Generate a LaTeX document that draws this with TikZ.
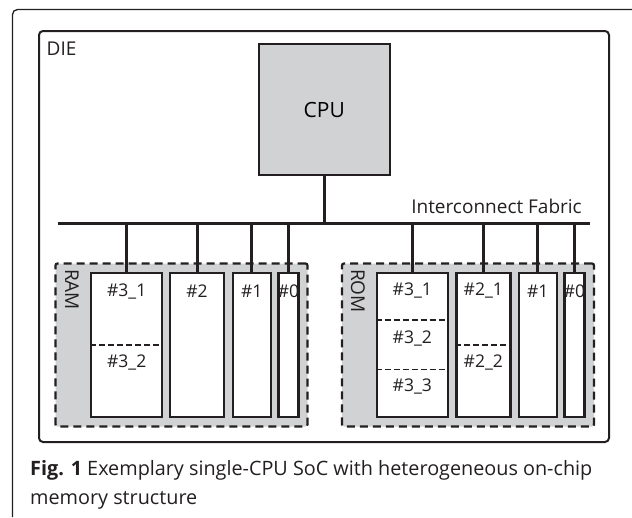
\documentclass[tikz,border=0pt]{standalone}
\usepackage{fontspec}
\setmainfont{Open Sans}
\definecolor{chipgray}{HTML}{D1D2D4}
\definecolor{ink}{HTML}{231F20}
\begin{document}
\begin{tikzpicture}[x=1pt,y=-1pt,
  frame/.style={draw=ink,line width=1.3pt},
  diebox/.style={draw=ink,line width=2pt,rounded corners=4pt,minimum width=570pt,minimum height=411pt,inner sep=0pt},
  cpubox/.style={draw=ink,fill=chipgray,line width=2pt,minimum width=131pt,minimum height=131pt,inner sep=0pt,font=\fontsize{21}{25}\selectfont},
  memregion/.style={draw=ink,fill=chipgray,line width=2.2pt,dash pattern=on 8pt off 5pt,rounded corners=2pt,minimum width=252pt,minimum height=163pt,inner sep=0pt},
  bank/.style={draw=ink,fill=white,line width=2.4pt,minimum height=144pt,inner sep=0pt},
  divider/.style={draw=ink,line width=1.1pt,dash pattern=on 6pt off 3pt},
  wire/.style={draw=ink,line width=3pt},
  lbl/.style={font=\fontsize{17.5}{21}\selectfont,text=ink,inner sep=0pt},
  biglbl/.style={font=\fontsize{19}{23}\selectfont,text=ink,inner sep=0pt}
]
\useasboundingbox (0,0) rectangle (632,517);
% outer frame
\draw[frame,rounded corners=5pt] (12.5,517) -- (12.5,9.5) -- (632,9.5);
% die
\node[diebox] (die) at (324,236.5) {};
\node[biglbl,anchor=base west] (dielbl) at (46.5,55.5) {DIE};
% cpu
\node[cpubox] (cpu) at (324.2,109.7) {CPU};
% bus
\coordinate (busL) at (58,223.5);
\coordinate (busR) at (590,223.5);
\draw[wire] (busL) -- (busR);
\node[biglbl,anchor=base east] (buslbl) at (582,213) {Interconnect Fabric};
\draw[wire] (cpu.south) -- (cpu.south |- busL);
% RAM region
\node[memregion] (ram) at (181.5,345) {};
\node[biglbl,rotate=-90,anchor=west] (ramlbl) at (72,269) {RAM};
\node[bank,minimum width=71pt] (r3) at (126.7,345) {};
\node[bank,minimum width=54pt] (r2) at (197,345) {};
\node[bank,minimum width=38pt] (r1) at (251.7,345) {};
\node[bank,minimum width=20pt] (r0) at (288.5,345) {};
\draw[divider] (r3.west |- 0,345) coordinate (r3d1) -- (r3.east |- r3d1);
\node[lbl] (r3a) at (126.7,291.5) {\#3\_1};
\node[lbl] (r3b) at (126.7,363) {\#3\_2};
\node[lbl] (r2a) at (197,291.5) {\#2};
\node[lbl] (r1a) at (251.7,291.5) {\#1};
\node[lbl] (r0a) at (288.5,291.5) {\#0};
\foreach \b in {r3,r2,r1,r0} {\draw[wire] (\b.north |- busL) -- (\b.north);}
% ROM region
\node[memregion] (rom) at (468,345) {};
\node[biglbl,rotate=-90,anchor=west] (romlbl) at (357.8,269) {ROM};
\node[bank,minimum width=71pt] (o3) at (412.3,345) {};
\node[bank,minimum width=54pt] (o2) at (483.3,345) {};
\node[bank,minimum width=38pt] (o1) at (537.7,345) {};
\node[bank,minimum width=20pt] (o0) at (574.5,345) {};
\draw[divider] (o3.west |- 0,320) coordinate (o3d1) -- (o3.east |- o3d1);
\draw[divider] (o3.west |- 0,369.3) coordinate (o3d2) -- (o3.east |- o3d2);
\draw[divider] (o2.west |- 0,345) coordinate (o2d1) -- (o2.east |- o2d1);
\node[lbl] (o3a) at (412.3,291) {\#3\_1};
\node[lbl] (o3b) at (412.3,338.5) {\#3\_2};
\node[lbl] (o3c) at (412.3,387) {\#3\_3};
\node[lbl] (o2a) at (483.3,291) {\#2\_1};
\node[lbl] (o2b) at (483.3,363) {\#2\_2};
\node[lbl] (o1a) at (537.7,291) {\#1};
\node[lbl] (o0a) at (574.5,291) {\#0};
\foreach \b in {o3,o2,o1,o0} {\draw[wire] (\b.north |- busL) -- (\b.north);}
% caption
\node[anchor=base west,inner sep=0pt,text=ink,font=\fontsize{19.8}{24}\selectfont] (cap1) at (30,475)
  {\textbf{Fig. 1} Exemplary single-CPU SoC with heterogeneous on-chip};
\node[anchor=base west,inner sep=0pt,text=ink,font=\fontsize{19.8}{24}\selectfont] (cap2) at (30,504)
  {memory structure};
\end{tikzpicture}
\end{document}
